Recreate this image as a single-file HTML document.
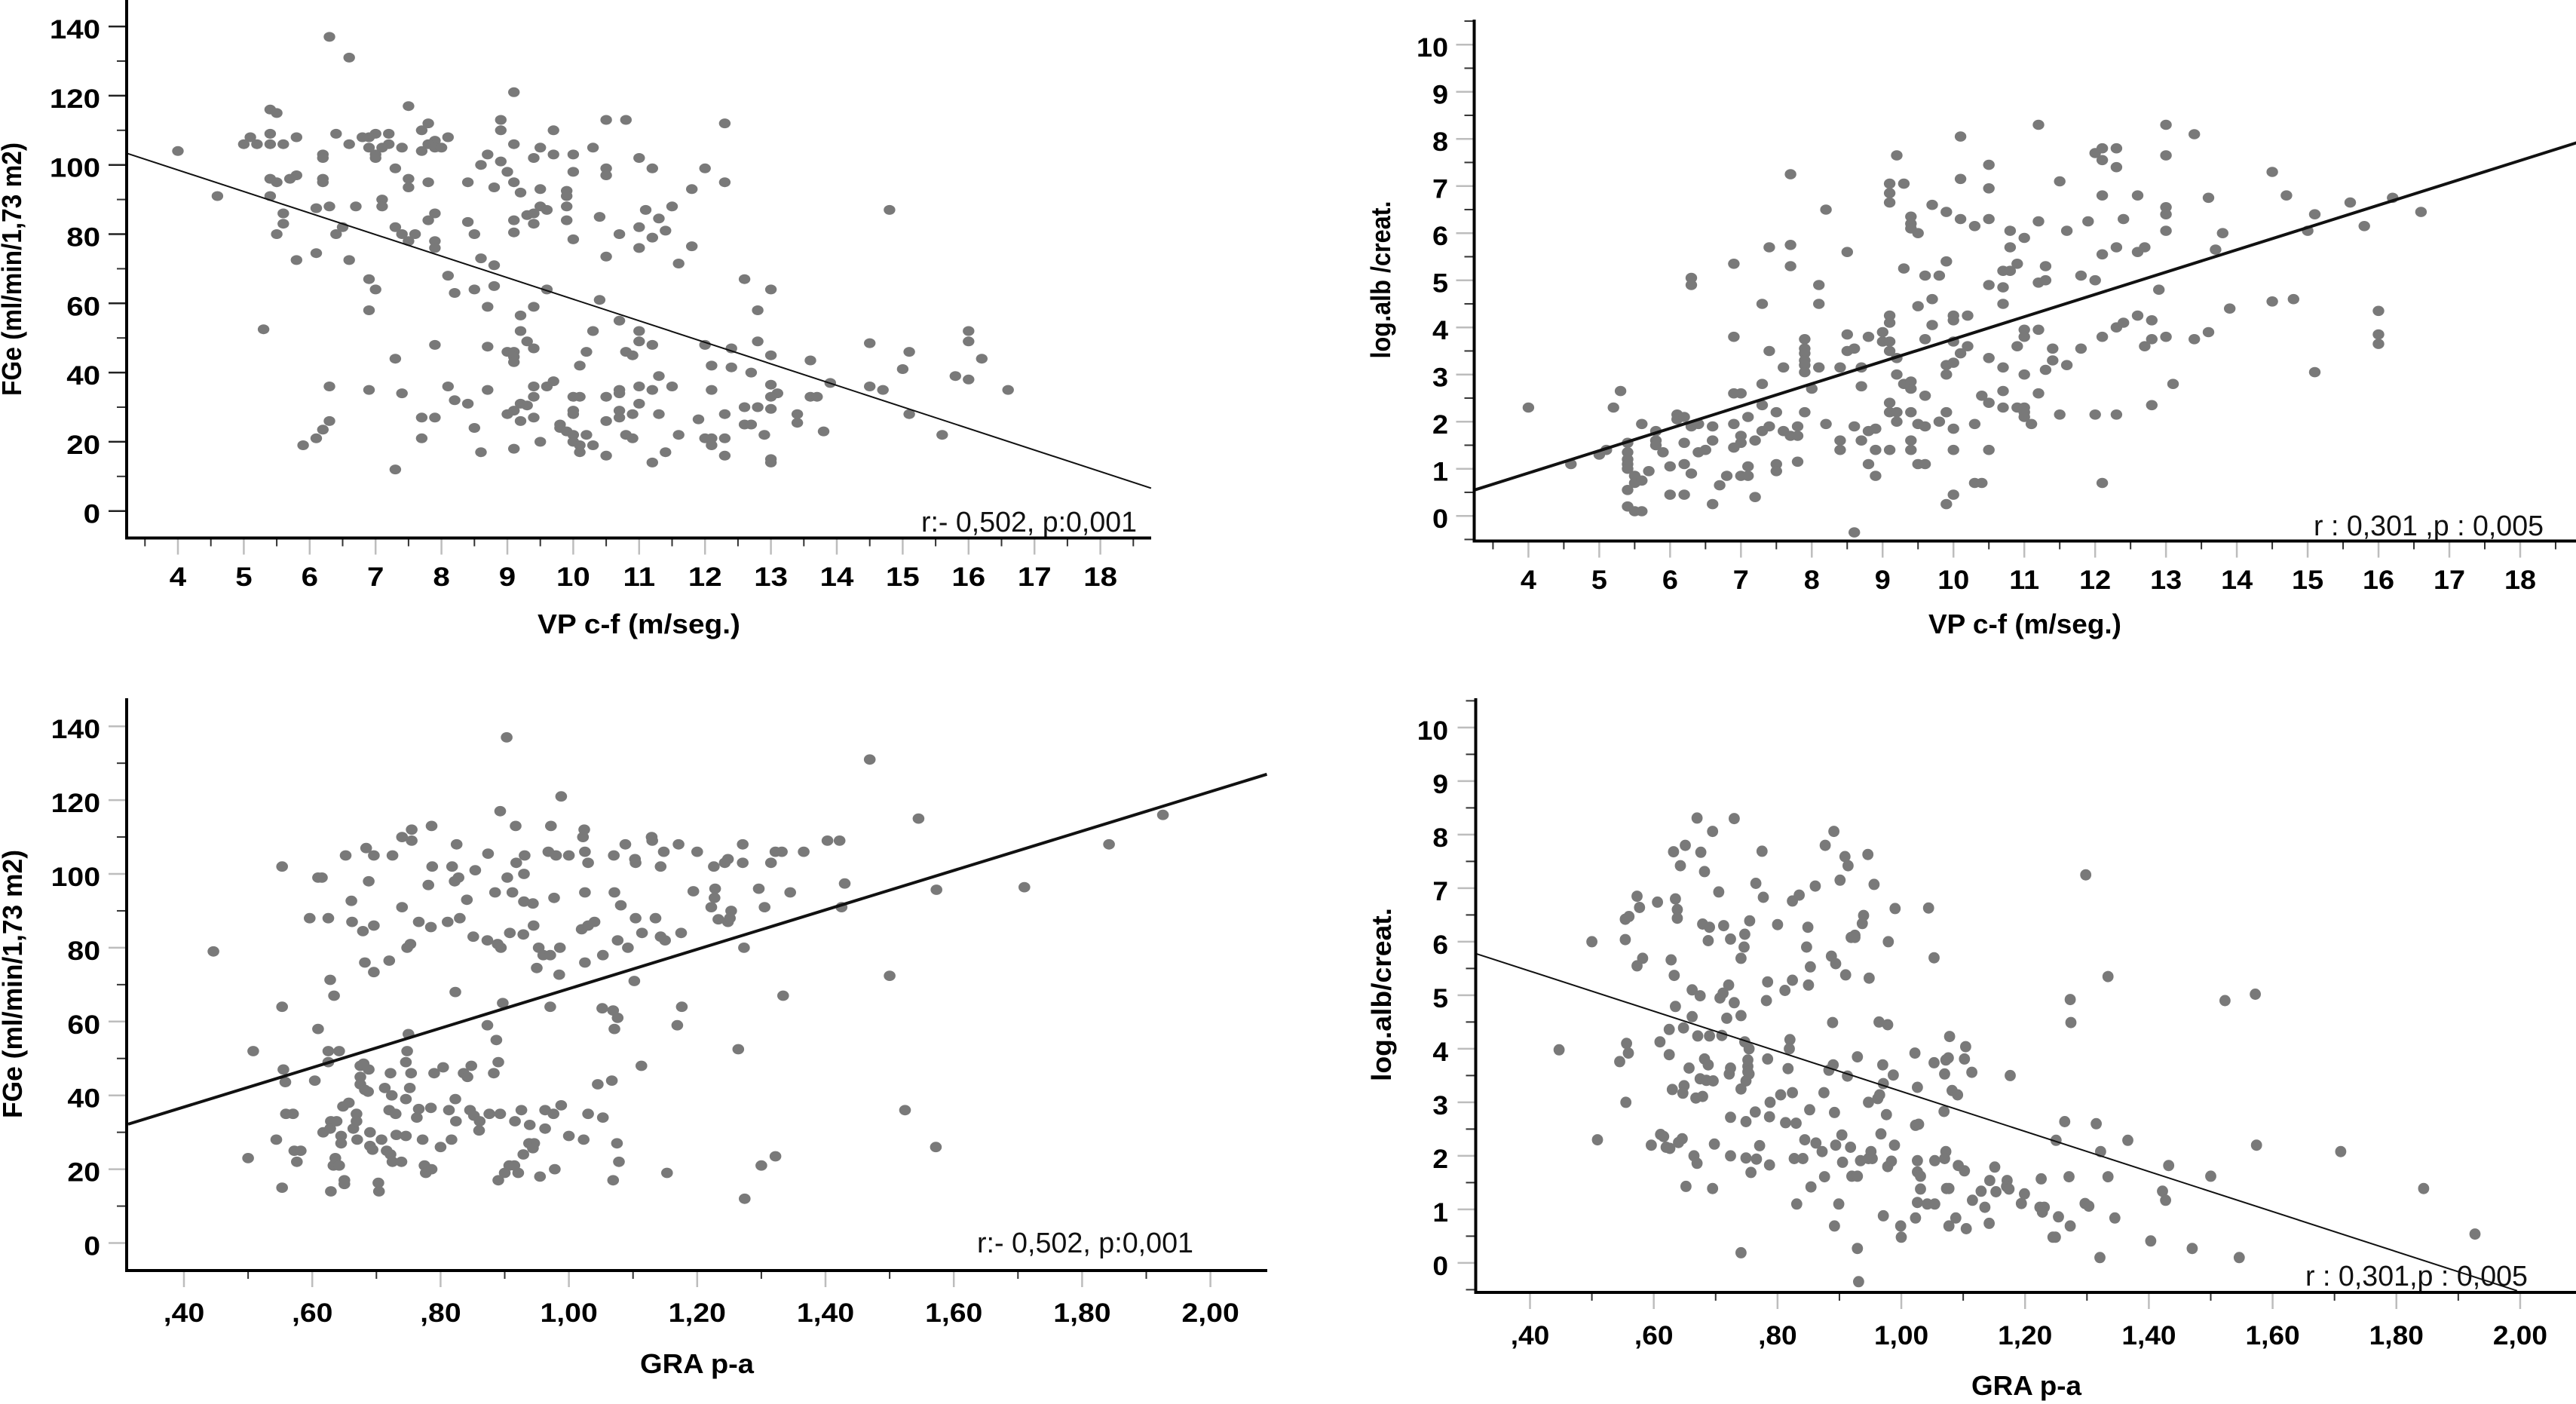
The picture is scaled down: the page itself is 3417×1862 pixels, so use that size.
<!DOCTYPE html>
<html lang="es">
<head>
<meta charset="utf-8">
<title>Scatter plots: FGe and log.alb/creat. vs VP c-f and GRA p-a</title>
<style>
  html, body { margin: 0; padding: 0; background: #fff; }
  svg { display: block; }
  text { font-family: "Liberation Sans", sans-serif; fill: #000; }
  .tick-label { font-weight: bold; font-size: 35px; }
  .axis-title { font-weight: bold; font-size: 36px; }
  .note { font-size: 38px; fill: #111; }
</style>
</head>
<body>
<svg id="figure" width="3417" height="1862" viewBox="0 0 3417 1862" xmlns="http://www.w3.org/2000/svg">
  <rect width="3417" height="1862" fill="#fff"/>

  <g id="panel-a">
    <text class="axis-title" x="847.5" y="840" text-anchor="middle" textLength="269" lengthAdjust="spacingAndGlyphs">VP c-f (m/seg.)</text>
    <text class="axis-title" transform="translate(28,357) rotate(-90)" text-anchor="middle" textLength="336" lengthAdjust="spacingAndGlyphs">FGe (ml/min/1,73 m2)</text>
    <text class="note" x="1222" y="705" textLength="286" lengthAdjust="spacingAndGlyphs">r:- 0,502, p:0,001</text>
  </g>

  <g id="panel-b">
    <text class="axis-title" x="2686" y="840" text-anchor="middle" textLength="256" lengthAdjust="spacingAndGlyphs">VP c-f (m/seg.)</text>
    <text class="axis-title" transform="translate(1844,371) rotate(-90)" text-anchor="middle" textLength="209" lengthAdjust="spacingAndGlyphs">log.alb /creat.</text>
    <text class="note" x="3069" y="710" textLength="305" lengthAdjust="spacingAndGlyphs">r : 0,301 ,p : 0,005</text>
  </g>

  <g id="panel-c">
    <text class="axis-title" x="924.5" y="1821" text-anchor="middle" textLength="151" lengthAdjust="spacingAndGlyphs">GRA p-a</text>
    <text class="axis-title" transform="translate(29,1305) rotate(-90)" text-anchor="middle" textLength="356" lengthAdjust="spacingAndGlyphs">FGe (ml/min/1,73 m2)</text>
    <text class="note" x="1296" y="1661" textLength="287" lengthAdjust="spacingAndGlyphs">r:- 0,502, p:0,001</text>
  </g>

  <g id="panel-d">
    <text class="axis-title" x="2688" y="1850" text-anchor="middle" textLength="146" lengthAdjust="spacingAndGlyphs">GRA p-a</text>
    <text class="axis-title" transform="translate(1845,1319) rotate(-90)" text-anchor="middle" textLength="230" lengthAdjust="spacingAndGlyphs">log.alb/creat.</text>
    <text class="note" x="3058" y="1705" textLength="295" lengthAdjust="spacingAndGlyphs">r : 0,301,p : 0,005</text>
  </g>
</svg>

<script>
// ---- Axis tick values and labels ----
const vpTicks = [4,5,6,7,8,9,10,11,12,13,14,15,16,17,18];
const vpTickLabels = ["4","5","6","7","8","9","10","11","12","13","14","15","16","17","18"];
const vpMinorTicks = [3.5,4.5,5.5,6.5,7.5,8.5,9.5,10.5,11.5,12.5,13.5,14.5,15.5,16.5,17.5,18.5];
const graTicks = [0.4,0.6,0.8,1.0,1.2,1.4,1.6,1.8,2.0];
const graTickLabels = [",40",",60",",80","1,00","1,20","1,40","1,60","1,80","2,00"];
const graMinorTicks = [0.5,0.7,0.9,1.1,1.3,1.5,1.7,1.9];
const fgeTicks = [0,20,40,60,80,100,120,140];
const fgeTickLabels = ["0","20","40","60","80","100","120","140"];
const fgeMinorTicks = [10,30,50,70,90,110,130];
const ratioTicks = [0,1,2,3,4,5,6,7,8,9,10];
const ratioTickLabels = ["0","1","2","3","4","5","6","7","8","9","10"];
const ratioMinorTicks = [-0.5,0.5,1.5,2.5,3.5,4.5,5.5,6.5,7.5,8.5,9.5,10.5];

// ---- Fit lines: [x, y] end points in data units ----
const fgeVpFit = [[3.234,103.3],[18.77,6.6]];
const ratioVpFit = [[3.24,0.55],[18.8,7.92]];
const fgeGraFit = [[0.313,32.2],[2.088,127]];
const ratioGraFit = [[0.312,5.78],[1.995,-0.52]];

// ---- Scatter series: [x, y] in data units ----
const fgeVpPoints = [[6.3,137],[6.6,131],[9.1,121],[7.5,117],[5.4,116],[5.5,115],[8.9,113],[10.5,113],[10.8,113],[12.3,112],[7.8,112],[8.9,110],[9.7,110],[7.7,110],[6.4,109],[5.4,109],[7,109],[7.2,109],[6.9,108],[6.8,108],[5.1,108],[5.8,108],[8.1,108],[7.9,107],[7.8,106],[5,106],[5.2,106],[5.4,106],[5.6,106],[6.6,106],[9.1,106],[7.2,106],[7.1,105],[6.9,105],[7.4,105],[7.9,105],[8,105],[10.3,105],[9.5,105],[7.7,104],[4,104],[9.7,103],[10,103],[8.7,103],[6.2,103],[6.2,102],[7,103],[7,102],[9.4,102],[11,102],[8.9,101],[8.6,100],[7.3,99],[10.5,99],[11.2,99],[12,99],[9,98],[10,98],[5.8,97],[10.5,97],[5.7,96],[5.4,96],[6.2,96],[6.2,95],[7.5,96],[5.5,95],[7.8,95],[8.4,95],[9.1,95],[12.3,95],[7.5,93.5],[8.8,93.5],[9.5,93],[9.9,92.5],[11.8,93],[9.2,92],[9.9,91],[4.6,91],[5.4,91],[7.1,90],[6.1,87.5],[6.3,88],[6.7,88],[7.1,88],[9.9,88],[9.5,88],[11.5,88],[14.8,87],[9.6,87],[11.1,87],[5.6,86],[7.9,86],[9.3,85.5],[9.4,86],[10.4,85],[11.3,84.5],[9.1,84],[9.9,84],[7.8,84],[8.4,83.5],[5.6,83],[9.4,83],[7.3,82],[6.5,82],[11,82],[11.4,81],[9.1,80.5],[5.5,80],[6.4,80],[7.4,80],[7.6,80],[8.5,80],[10.7,80],[11.2,79],[7.5,78],[7.9,78],[10,78.5],[7.9,76],[11.8,76.5],[11,76],[6.1,74.5],[10.5,73.5],[8.6,73],[5.8,72.5],[6.6,72.5],[8.8,71],[11.6,71.5],[8.1,68],[6.9,67],[12.6,67],[7,64],[8.5,64],[9.6,64],[13,64],[8.2,63],[8.8,65],[10.4,61],[8.7,59],[9.4,59],[6.9,58],[12.8,58],[9.2,56.5],[10.7,55],[5.3,52.5],[9.2,52],[10.3,52],[11,52],[11,49],[9.3,49],[12.8,49],[14.5,48.5],[16,52],[16,49],[7.9,48],[8.7,47.5],[11.2,48],[12,48],[12.4,47],[9.4,47],[9,46],[9.1,46],[9.1,44.5],[9.1,43],[10.2,46],[15.1,46],[10.8,46],[10.9,45],[13,45],[7.3,44],[16.2,44],[13.6,43.5],[10.1,42],[12.1,42],[12.4,41.5],[15,41],[12.7,40],[11.3,39],[15.8,39],[16,38],[9.7,37.5],[13.9,37],[6.3,36],[8.1,36],[9.4,36],[9.6,36],[11,36],[11.5,36],[13,36.5],[14.5,36],[6.9,35],[8.7,35],[10.7,35],[11.2,35],[12.1,35],[14.7,35],[16.6,35],[7.4,34],[10.7,34],[13.1,34],[9.4,33],[10,33],[10.1,33],[10.5,33],[13,33],[13.6,33],[13.7,33],[8.2,32],[8.4,31],[9.2,31],[9.3,30.5],[11,31],[12.6,30],[12.8,30],[9.1,29],[10,29],[10.7,29],[13,29.5],[9,28],[10,28],[10.9,28],[11.3,28],[12.3,28],[13.4,28],[15.1,28],[7.7,27],[7.9,27],[9.4,27],[10.7,27],[6.3,26],[9.2,26],[10.5,26],[11.9,26.5],[9.8,25],[12.6,25],[12.7,25],[13.4,25.5],[8.5,24],[9.8,24],[9.9,23],[6.2,23.5],[13.8,23],[10,22],[10.2,22],[10.8,22],[11.6,22],[12.9,22],[15.6,22],[6.1,21],[7.7,21],[10.9,21],[12,21],[12.1,21],[12.3,21],[9.5,20],[10,20],[5.9,19],[10.1,19],[10.3,19],[12.1,19],[9.1,18],[8.6,17],[10.1,17],[11.4,17],[10.5,16],[12.3,16],[13,15],[13,14],[11.2,14],[7.3,12]];

const ratioVpPoints = [[4,2.3],[4.6,1.1],[5,1.3],[5.1,1.4],[5.2,2.3],[5.3,2.65],[5.4,1.55],[5.4,1.35],[5.4,1.2],[5.4,1.1],[5.4,1],[5.4,0.55],[5.4,0.2],[5.5,0.85],[5.5,0.7],[5.5,0.1],[5.6,0.75],[5.6,0.1],[5.6,1.95],[5.7,0.95],[5.8,1.8],[5.8,1.6],[5.8,1.5],[5.9,1.35],[6,1.05],[6,0.45],[6.1,2.15],[6.1,2.05],[6.2,2.1],[6.2,1.55],[6.2,1.1],[6.2,0.45],[6.3,5.05],[6.3,4.9],[6.3,1.9],[6.3,0.9],[6.4,1.95],[6.4,1.35],[6.5,1.4],[6.6,1.9],[6.6,1.6],[6.6,0.25],[6.7,0.65],[6.8,0.85],[6.9,5.35],[6.9,3.8],[6.9,2.6],[6.9,1.95],[6.9,1.45],[7,2.6],[7,1.7],[7,1.55],[7,0.85],[7.1,2.1],[7.1,1.05],[7.1,0.85],[7.2,1.6],[7.2,0.4],[7.3,4.5],[7.3,2.8],[7.3,2.35],[7.3,1.8],[7.4,5.7],[7.4,3.5],[7.4,1.9],[7.5,2.2],[7.5,1.1],[7.5,0.95],[7.6,3.15],[7.6,1.8],[7.7,7.25],[7.7,5.75],[7.7,5.3],[7.7,1.7],[7.8,1.9],[7.8,1.7],[7.8,1.15],[7.9,3.75],[7.9,3.55],[7.9,3.45],[7.9,3.3],[7.9,3.2],[7.9,3.05],[7.9,2.2],[8,2.7],[8.1,4.9],[8.1,4.5],[8.1,3.15],[8.2,6.5],[8.2,1.95],[8.4,3.15],[8.4,1.6],[8.4,1.4],[8.5,5.6],[8.5,3.85],[8.5,3.5],[8.6,3.55],[8.6,1.9],[8.6,-0.35],[8.7,3.15],[8.7,2.75],[8.7,1.6],[8.8,3.8],[8.8,1.8],[8.8,1.1],[8.9,1.85],[8.9,1.4],[8.9,0.85],[9,3.9],[9,3.7],[9.1,7.05],[9.1,6.85],[9.1,6.65],[9.1,4.25],[9.1,4.1],[9.1,3.7],[9.1,3.5],[9.1,2.4],[9.1,2.2],[9.1,1.4],[9.2,7.65],[9.2,3.35],[9.2,3],[9.2,2.2],[9.2,2],[9.3,7.05],[9.3,5.25],[9.3,2.8],[9.4,6.35],[9.4,6.2],[9.4,6.1],[9.4,2.85],[9.4,2.7],[9.4,2.2],[9.4,1.6],[9.4,1.4],[9.5,6],[9.5,4.45],[9.5,1.95],[9.5,1.1],[9.6,5.1],[9.6,3.75],[9.6,2.55],[9.6,1.9],[9.6,1.1],[9.7,6.6],[9.7,4.6],[9.7,4.05],[9.8,5.1],[9.8,2],[9.9,6.45],[9.9,5.4],[9.9,3.2],[9.9,3],[9.9,2.2],[9.9,0.25],[10,4.25],[10,4.15],[10,3.7],[10,3.25],[10,1.85],[10,1.4],[10,0.45],[10.1,8.05],[10.1,7.15],[10.1,6.3],[10.1,3.45],[10.2,4.25],[10.2,3.6],[10.3,6.15],[10.3,1.95],[10.3,0.7],[10.4,2.55],[10.4,0.7],[10.5,7.45],[10.5,6.95],[10.5,6.3],[10.5,4.9],[10.5,3.35],[10.5,2.4],[10.5,1.4],[10.7,5.2],[10.7,4.85],[10.7,4.5],[10.7,3.15],[10.7,2.65],[10.7,2.3],[10.8,6.05],[10.8,5.7],[10.8,5.2],[10.9,5.35],[10.9,3.6],[10.9,2.3],[11,5.9],[11,3.95],[11,3.8],[11,3],[11,2.3],[11,2.2],[11,2.1],[11.1,1.95],[11.2,8.3],[11.2,6.25],[11.2,4.95],[11.2,3.95],[11.2,2.6],[11.3,5.3],[11.3,5],[11.3,3.1],[11.4,3.55],[11.4,3.3],[11.5,7.1],[11.5,2.15],[11.6,6.05],[11.6,3.2],[11.8,5.1],[11.8,3.55],[11.9,6.25],[12,7.7],[12,5],[12,2.15],[12.1,7.8],[12.1,7.55],[12.1,6.8],[12.1,5.55],[12.1,3.8],[12.1,0.7],[12.3,7.8],[12.3,7.4],[12.3,5.7],[12.3,4],[12.3,2.15],[12.4,6.3],[12.4,4.1],[12.6,6.8],[12.6,5.6],[12.6,4.25],[12.7,5.7],[12.7,3.6],[12.8,4.15],[12.8,3.75],[12.8,2.35],[12.9,4.8],[13,8.3],[13,7.65],[13,6.55],[13,6.4],[13,6.05],[13,3.8],[13.1,2.8],[13.4,8.1],[13.4,3.75],[13.6,6.75],[13.6,3.9],[13.7,5.65],[13.8,6],[13.9,4.4],[14.5,7.3],[14.5,4.55],[14.7,6.8],[14.8,4.6],[15,6.05],[15.1,6.4],[15.1,3.05],[15.6,6.65],[15.8,6.15],[16,4.35],[16,3.85],[16,3.65],[16.2,6.75],[16.6,6.45]];

const fgeGraPoints = [[0.446,79],[0.5,23],[0.508,52],[0.544,28],[0.553,102],[0.553,64],[0.553,15],[0.555,47],[0.558,43.6],[0.559,35],[0.57,35],[0.572,25],[0.582,25],[0.576,22],[0.596,88],[0.604,44],[0.609,58],[0.609,99],[0.615,99],[0.617,30],[0.625,88],[0.625,52],[0.625,49],[0.628,71.3],[0.629,33],[0.628,31],[0.629,14],[0.634,67],[0.638,33],[0.636,23],[0.633,21],[0.642,21],[0.642,52],[0.645,29],[0.645,27],[0.648,37],[0.65,17],[0.65,16],[0.652,105],[0.657,38],[0.661,92.7],[0.662,87],[0.664,31],[0.669,35],[0.669,33],[0.67,28],[0.675,48],[0.675,45],[0.675,43],[0.679,84.5],[0.682,76],[0.684,107],[0.68,48.6],[0.688,98],[0.688,47],[0.682,41.5],[0.687,41],[0.69,30],[0.69,26.3],[0.694,25.3],[0.696,86],[0.696,105],[0.696,73.4],[0.703,16.3],[0.704,14],[0.708,28],[0.713,42],[0.716,25],[0.72,36],[0.72,76.5],[0.722,46],[0.724,40],[0.725,105],[0.722,24],[0.725,22],[0.73,35],[0.731,29.3],[0.739,22],[0.74,110],[0.74,91],[0.746,29],[0.748,80],[0.753,81],[0.746,49],[0.746,39],[0.748,52],[0.75,56.6],[0.755,112],[0.755,109],[0.752,42],[0.754,46],[0.766,87],[0.766,36.3],[0.763,34],[0.772,28],[0.775,21],[0.777,19],[0.781,97],[0.786,20],[0.785,85.6],[0.785,36.6],[0.786,113],[0.787,102],[0.79,46],[0.8,26],[0.804,47.6],[0.811,87],[0.813,36],[0.817,28],[0.818,102],[0.822,98],[0.823,68],[0.823,39],[0.824,33],[0.825,108],[0.828,99],[0.83,88],[0.836,46],[0.841,93],[0.842,45],[0.846,36],[0.848,48],[0.851,83],[0.852,34.5],[0.854,101],[0.86,30.5],[0.861,33],[0.873,82],[0.874,105.5],[0.873,59],[0.876,35],[0.883,46],[0.885,95],[0.887,55],[0.889,81],[0.894,80],[0.89,49],[0.893,35],[0.89,17],[0.893,117],[0.897,65],[0.903,137],[0.9,19],[0.904,99],[0.907,21],[0.908,84],[0.912,95],[0.916,33],[0.915,21],[0.917,113],[0.918,103],[0.921,19],[0.926,36],[0.929,83.6],[0.93,92.5],[0.929,24],[0.931,105],[0.93,100],[0.939,32],[0.938,27],[0.944,92],[0.946,27],[0.944,25.7],[0.945,86],[0.95,74.5],[0.953,80],[0.955,18],[0.963,36],[0.963,31],[0.96,78],[0.971,64],[0.968,106],[0.971,78],[0.972,113],[0.976,35],[0.977,93.5],[0.978,20],[0.98,105],[0.985,72.7],[0.986,80],[0.988,121],[0.988,37.3],[1,105],[1,29],[1.02,85],[1.022,110],[1.023,28],[1.025,106],[1.024,112],[1.025,76],[1.025,95],[1.03,35],[1.03,86],[1.03,103],[1.04,87],[1.045,43],[1.052,63.6],[1.053,78],[1.053,34],[1.067,44],[1.069,63],[1.07,105],[1.071,95],[1.069,17],[1.071,58],[1.076,61],[1.075,27],[1.076,82],[1.078,22],[1.081,91.5],[1.088,108],[1.092,80],[1.102,71],[1.103,104],[1.104,88],[1.104,103],[1.113,48],[1.114,84],[1.129,110],[1.13,109],[1.135,88],[1.143,102],[1.143,83],[1.148,106],[1.15,82],[1.153,19],[1.171,108],[1.169,59],[1.175,84],[1.176,64],[1.194,95.3],[1.2,106],[1.222,91],[1.226,102],[1.228,96],[1.227,93.5],[1.233,87.7],[1.243,103],[1.248,104],[1.248,87],[1.253,90],[1.251,88],[1.264,52.5],[1.271,103],[1.271,108],[1.273,80],[1.274,12],[1.296,96],[1.3,21],[1.305,91],[1.315,103],[1.322,106],[1.322,23.5],[1.332,106],[1.334,67],[1.345,95],[1.366,106],[1.403,109],[1.422,109],[1.425,91],[1.43,97.4],[1.469,131],[1.5,72.4],[1.524,36],[1.545,115],[1.572,26],[1.573,95.7],[1.71,96.4],[1.842,108],[1.926,116]];

const ratioGraPoints = [[0.447,3.98],[0.5,6],[0.509,2.3],[0.545,3.76],[0.554,6.42],[0.56,6.47],[0.554,6.04],[0.556,4.1],[0.559,3.92],[0.555,3],[0.573,6.85],[0.577,6.64],[0.582,5.69],[0.573,5.55],[0.596,2.2],[0.606,6.74],[0.61,4.13],[0.611,2.4],[0.616,2.36],[0.62,2.16],[0.628,5.66],[0.625,4.36],[0.625,3.89],[0.626,2.14],[0.63,3.24],[0.632,7.68],[0.633,5.37],[0.635,4.79],[0.635,6.8],[0.638,6.6],[0.638,6.44],[0.643,7.42],[0.64,2.25],[0.646,2.32],[0.648,4.39],[0.649,3.31],[0.647,3.17],[0.651,7.8],[0.652,1.43],[0.657,3.64],[0.662,5.1],[0.662,4.6],[0.665,2],[0.67,1.86],[0.67,8.31],[0.671,4.24],[0.668,3.08],[0.675,4.99],[0.676,7.67],[0.675,3.44],[0.679,3.11],[0.679,6.33],[0.682,7.31],[0.682,3.81],[0.685,3.41],[0.688,3.7],[0.688,6.02],[0.69,6.27],[0.69,4.24],[0.695,8.06],[0.695,1.39],[0.696,3.4],[0.698,2.22],[0.705,6.93],[0.707,4.95],[0.712,5.04],[0.71,4.25],[0.713,6.3],[0.718,4.57],[0.721,5.19],[0.722,3.53],[0.724,3.64],[0.724,2],[0.724,2.72],[0.724,6.05],[0.73,8.3],[0.73,4.86],[0.741,5.69],[0.741,4.62],[0.741,3.25],[0.741,0.19],[0.746,5.9],[0.747,6.14],[0.747,4.13],[0.749,3.4],[0.749,2.64],[0.749,1.96],[0.755,6.39],[0.754,4],[0.752,3.79],[0.752,3.67],[0.752,3.57],[0.754,3.53],[0.757,1.69],[0.764,2.82],[0.765,7.09],[0.766,1.94],[0.771,2.19],[0.775,7.69],[0.777,6.83],[0.782,4.9],[0.784,3.81],[0.784,5.25],[0.787,1.83],[0.787,2.73],[0.788,3],[0.8,6.32],[0.805,3.14],[0.812,5.09],[0.813,2.62],[0.817,3.63],[0.82,4.17],[0.819,4],[0.824,5.28],[0.824,3.18],[0.824,6.76],[0.827,1.95],[0.83,2.61],[0.831,1.1],[0.835,6.87],[0.841,1.95],[0.844,2.3],[0.847,5.9],[0.849,6.27],[0.853,5.53],[0.85,5.19],[0.852,2.86],[0.854,1.42],[0.861,7.04],[0.862,2.24],[0.872,2.08],[0.875,3.18],[0.876,1.61],[0.877,7.8],[0.883,3.6],[0.887,5.73],[0.889,4.49],[0.89,3.7],[0.891,8.06],[0.892,2.81],[0.894,5.59],[0.894,2.2],[0.892,0.69],[0.899,1.1],[0.901,7.15],[0.904,2.39],[0.905,1.88],[0.909,7.59],[0.91,5.38],[0.914,7.42],[0.913,3.49],[0.919,6.08],[0.925,6.12],[0.925,6.08],[0.918,2.16],[0.92,1.62],[0.929,1.62],[0.929,3.85],[0.929,0.27],[0.931,-0.35],[0.934,1.91],[0.937,6.34],[0.939,6.49],[0.946,7.63],[0.948,5.32],[0.947,3],[0.947,1.95],[0.951,2.08],[0.953,1.95],[0.956,7.07],[0.962,3.07],[0.964,4.5],[0.965,3.14],[0.967,2.41],[0.97,3.7],[0.971,3.35],[0.971,0.88],[0.978,4.45],[0.979,6],[0.976,2.77],[0.978,1.8],[0.984,1.9],[0.987,3.51],[0.989,2.2],[0.99,6.62],[0.999,0.69],[1,0.48],[1.022,3.92],[1.023,2.57],[1.028,2.59],[1.023,0.84],[1.026,3.28],[1.026,1.91],[1.026,1.7],[1.031,1.62],[1.031,1.38],[1.026,1.13],[1.044,6.63],[1.042,1.1],[1.054,1.1],[1.053,5.7],[1.053,3.74],[1.054,1.91],[1.07,3.53],[1.069,2.83],[1.072,2.08],[1.07,1.95],[1.072,3.79],[1.076,3.83],[1.073,1.39],[1.077,1.39],[1.078,4.23],[1.077,0.69],[1.082,3.22],[1.088,0.84],[1.091,3.14],[1.092,1.82],[1.102,1.72],[1.104,4.04],[1.102,3.81],[1.105,0.64],[1.114,3.56],[1.115,1.17],[1.129,1.34],[1.135,1.04],[1.143,1.54],[1.142,0.74],[1.151,1.79],[1.153,1.33],[1.171,1.54],[1.17,1.43],[1.174,1.38],[1.176,3.5],[1.194,1.11],[1.199,1.29],[1.226,1.57],[1.224,1.04],[1.231,1.04],[1.228,0.95],[1.245,0.48],[1.249,0.48],[1.25,2.29],[1.254,0.86],[1.264,2.64],[1.273,4.92],[1.274,4.49],[1.271,1.61],[1.273,0.69],[1.298,7.25],[1.297,1.11],[1.303,1.06],[1.315,2.6],[1.321,0.1],[1.322,2.08],[1.334,5.35],[1.334,1.61],[1.345,0.84],[1.366,2.29],[1.403,0.41],[1.422,1.34],[1.427,1.17],[1.432,1.82],[1.47,0.27],[1.5,1.62],[1.523,4.9],[1.546,0.1],[1.572,5.02],[1.574,2.2],[1.71,2.08],[1.844,1.39],[1.927,0.54]];

// ---- Rendering ----
const SVG_NS = 'http://www.w3.org/2000/svg';

function makeLinearScale(refValue, refPixel, pixelsPerUnit) {
  return function (v) { return refPixel + (v - refValue) * pixelsPerUnit; };
}

function makeLine(parent, x1, y1, x2, y2, color, width) {
  const el = document.createElementNS(SVG_NS, 'line');
  el.setAttribute('x1', x1);
  el.setAttribute('y1', y1);
  el.setAttribute('x2', x2);
  el.setAttribute('y2', y2);
  el.setAttribute('stroke', color);
  el.setAttribute('stroke-width', width);
  parent.appendChild(el);
  return el;
}

function makeLabel(parent, x, y, anchor, content, stretch) {
  const el = document.createElementNS(SVG_NS, 'text');
  el.setAttribute('class', 'tick-label');
  el.setAttribute('transform', 'translate(' + x + ',' + y + ') scale(' + stretch + ',1)');
  el.setAttribute('text-anchor', anchor);
  el.textContent = content;
  parent.appendChild(el);
  return el;
}

function drawPanel(cfg) {
  const root = document.getElementById(cfg.id);
  const xs = makeLinearScale(cfg.xRef, cfg.xRefPx, cfg.xPerUnit);
  const ys = makeLinearScale(cfg.yRef, cfg.yRefPx, -cfg.yPerUnit);

  // points
  cfg.points.forEach(function (p) {
    const dot = document.createElementNS(SVG_NS, 'ellipse');
    dot.setAttribute('cx', xs(p[0]).toFixed(1));
    dot.setAttribute('cy', ys(p[1]).toFixed(1));
    dot.setAttribute('rx', cfg.dotRx);
    dot.setAttribute('ry', cfg.dotRy);
    dot.setAttribute('fill', '#797979');
    
    
    root.appendChild(dot);
  });

  // fit line
  const fit = makeLine(root, xs(cfg.fit[0][0]), ys(cfg.fit[0][1]), xs(cfg.fit[1][0]), ys(cfg.fit[1][1]), '#111', cfg.fitWidth);
  
  

  // y ticks
  cfg.yTicks.forEach(function (v, i) {
    const t = makeLine(root, cfg.axisX - 24, ys(v), cfg.axisX, ys(v), cfg.yMajorColor, 2.5);
    
    
    const lab = makeLabel(root, cfg.yLabelX, ys(v) + 16, 'end', cfg.yTickLabels[i], cfg.labelStretch);
    
    
  });
  cfg.yMinor.forEach(function (v) {
    const t = makeLine(root, cfg.axisX - 13, ys(v), cfg.axisX, ys(v), '#333', 2);
    
    
  });

  // x ticks
  cfg.xTicks.forEach(function (v, i) {
    const t = makeLine(root, xs(v), cfg.axisY, xs(v), cfg.axisY + 22, '#bdbdbd', 2.5);
    
    
    const lab = makeLabel(root, xs(v), cfg.xLabelY, 'middle', cfg.xTickLabels[i], cfg.labelStretch);
    
    
  });
  cfg.xMinor.forEach(function (v) {
    const t = makeLine(root, xs(v), cfg.axisY, xs(v), cfg.axisY + 11, '#333', 2);
    
    
  });

  // axes
  const yAxis = makeLine(root, cfg.axisX, cfg.axisTop, cfg.axisX, cfg.axisY + 2, '#000', 4);
  
  
  const xAxis = makeLine(root, cfg.axisX - 2, cfg.axisY, cfg.axisRight, cfg.axisY, '#000', 4);
  
  
}

drawPanel({
  id: 'panel-a', points: fgeVpPoints, fit: fgeVpFit, fitWidth: 2,
  xRef: 4, xRefPx: 236, xPerUnit: 87.4,
  yRef: 0, yRefPx: 677.7, yPerUnit: 4.59,
  axisX: 168, axisY: 713.5, axisTop: 0, axisRight: 1527,
  yLabelX: 133, xLabelY: 777, labelStretch: 1.15,
  dotRx: 7.7, dotRy: 6.5, yMajorColor: '#222',
  xTicks: vpTicks, xTickLabels: vpTickLabels, xMinor: vpMinorTicks,
  yTicks: fgeTicks, yTickLabels: fgeTickLabels, yMinor: fgeMinorTicks
});
drawPanel({
  id: 'panel-b', points: ratioVpPoints, fit: ratioVpFit, fitWidth: 4,
  xRef: 4, xRefPx: 2027.4, xPerUnit: 93.97,
  yRef: 0, yRefPx: 684.2, yPerUnit: 62.5,
  axisX: 1955.5, axisY: 717.5, axisTop: 26, axisRight: 3417,
  yLabelX: 1921, xLabelY: 781, labelStretch: 1.08,
  dotRx: 7.7, dotRy: 6.8, yMajorColor: '#bdbdbd',
  xTicks: vpTicks, xTickLabels: vpTickLabels, xMinor: vpMinorTicks,
  yTicks: ratioTicks, yTickLabels: ratioTickLabels, yMinor: ratioMinorTicks
});
drawPanel({
  id: 'panel-c', points: fgeGraPoints, fit: fgeGraFit, fitWidth: 4,
  xRef: 0.4, xRefPx: 244, xPerUnit: 851,
  yRef: 0, yRefPx: 1648.5, yPerUnit: 4.895,
  axisX: 168, axisY: 1685, axisTop: 926, axisRight: 1681,
  yLabelX: 133, xLabelY: 1753, labelStretch: 1.12,
  dotRx: 7.8, dotRy: 6.9, yMajorColor: '#bdbdbd',
  xTicks: graTicks, xTickLabels: graTickLabels, xMinor: graMinorTicks,
  yTicks: fgeTicks, yTickLabels: fgeTickLabels, yMinor: fgeMinorTicks
});
drawPanel({
  id: 'panel-d', points: ratioGraPoints, fit: ratioGraFit, fitWidth: 2,
  xRef: 0.4, xRefPx: 2029.5, xPerUnit: 820.9,
  yRef: 0, yRefPx: 1674.9, yPerUnit: 71,
  axisX: 1957.5, axisY: 1714, axisTop: 926, axisRight: 3417,
  yLabelX: 1921, xLabelY: 1783, labelStretch: 1.06,
  dotRx: 7.4, dotRy: 7.5, yMajorColor: '#bdbdbd',
  xTicks: graTicks, xTickLabels: graTickLabels, xMinor: graMinorTicks,
  yTicks: ratioTicks, yTickLabels: ratioTickLabels, yMinor: ratioMinorTicks
});
</script>
</body>
</html>
